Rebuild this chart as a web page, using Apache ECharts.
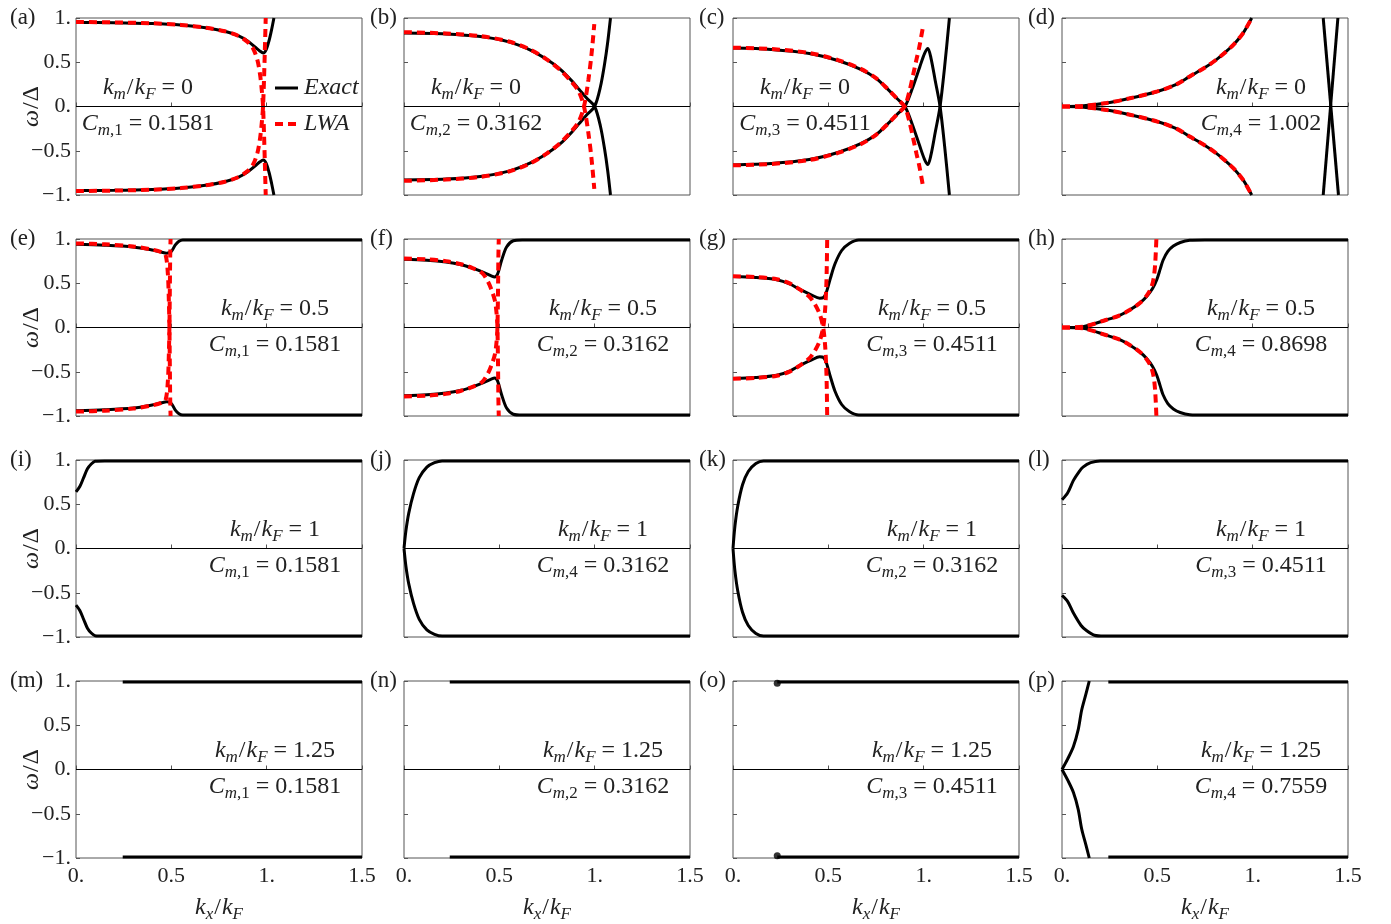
<!DOCTYPE html>
<html><head><meta charset="utf-8">
<script src="https://cdn.jsdelivr.net/npm/echarts@6/dist/echarts.min.js"></script>
<style>html,body{margin:0;padding:0;background:#fff}#c{width:1391px;height:924px}</style>
</head><body><div id="c"></div>
<script>
// ---------- tick labels / texts ----------
const xTicks = [0, 0.5, 1, 1.5];
const xTickLabels = ['0.', '0.5', '1.', '1.5'];
const yTicks = [-1, -0.5, 0, 0.5, 1];
const yTickLabels = ['\u22121.', '\u22120.5', '0.', '0.5', '1.'];
const panelLetters = ['(a)','(b)','(c)','(d)','(e)','(f)','(g)','(h)','(i)','(j)','(k)','(l)','(m)','(n)','(o)','(p)'];
const kmValues = ['0','0','0','0','0.5','0.5','0.5','0.5','1','1','1','1','1.25','1.25','1.25','1.25'];
const cIndex = ['1','2','3','4','1','2','3','4','1','4','2','3','1','2','3','4'];
const cValues = ['0.1581','0.3162','0.4511','1.002','0.1581','0.3162','0.4511','0.8698','0.1581','0.3162','0.3162','0.4511','0.1581','0.3162','0.4511','0.7559'];
const legendNames = ['Exact', 'LWA'];
const zeroLine = [[0,0],[1.5,0]];

// ---------- (a) km=0, C=0.1581 ----------
const a_exUp = [[0,0.95],[0.2,0.947],[0.4,0.937],[0.55,0.92],[0.68,0.89],[0.78,0.85],[0.85,0.8],[0.9,0.74],[0.94,0.67],[0.965,0.625],[0.982,0.605],[0.997,0.64],[1.012,0.74],[1.026,0.87],[1.038,1.0]];
const a_exLo = [[0,-0.95],[0.2,-0.947],[0.4,-0.937],[0.55,-0.92],[0.68,-0.89],[0.78,-0.85],[0.85,-0.8],[0.9,-0.74],[0.94,-0.67],[0.965,-0.625],[0.982,-0.605],[0.997,-0.64],[1.012,-0.74],[1.026,-0.87],[1.038,-1.0]];
const a_lwUp = [[0,0.955],[0.2,0.95],[0.4,0.94],[0.55,0.922],[0.68,0.89],[0.78,0.85],[0.85,0.8],[0.9,0.73],[0.93,0.65],[0.952,0.52],[0.966,0.35],[0.975,0.17],[0.981,0.0],[0.986,-0.3],[0.99,-0.6],[0.995,-1.0]];
const a_lwLo = [[0,-0.955],[0.2,-0.95],[0.4,-0.94],[0.55,-0.922],[0.68,-0.89],[0.78,-0.85],[0.85,-0.8],[0.9,-0.73],[0.93,-0.65],[0.952,-0.52],[0.966,-0.35],[0.975,-0.17],[0.981,0.0],[0.986,0.3],[0.99,0.6],[0.995,1.0]];
// ---------- (b) ----------
const b_exUp = [[0,0.83],[0.22,0.82],[0.4,0.79],[0.55,0.73],[0.66,0.64],[0.75,0.53],[0.82,0.42],[0.88,0.29],[0.92,0.19],[0.96,0.09],[1.0,0.0],[1.03,-0.22],[1.052,-0.48],[1.068,-0.72],[1.083,-1.0]];
const b_exLo = [[0,-0.83],[0.22,-0.82],[0.4,-0.79],[0.55,-0.73],[0.66,-0.64],[0.75,-0.53],[0.82,-0.42],[0.88,-0.29],[0.92,-0.19],[0.96,-0.09],[1.0,0.0],[1.03,0.22],[1.052,0.48],[1.068,0.72],[1.083,1.0]];
const b_lwUp = [[0,0.84],[0.22,0.825],[0.4,0.795],[0.55,0.735],[0.66,0.645],[0.75,0.53],[0.82,0.41],[0.87,0.3],[0.914,0.18],[0.944,0.0],[0.967,-0.3],[0.984,-0.6],[0.998,-0.93]];
const b_lwLo = [[0,-0.84],[0.22,-0.825],[0.4,-0.795],[0.55,-0.735],[0.66,-0.645],[0.75,-0.53],[0.82,-0.41],[0.87,-0.3],[0.914,-0.18],[0.944,0.0],[0.967,0.3],[0.984,0.6],[0.998,0.93]];
// ---------- (c) ----------
const c_exA = [[0,0.66],[0.2,0.645],[0.4,0.6],[0.55,0.52],[0.67,0.42],[0.75,0.32],[0.81,0.2],[0.86,0.09],[0.902,0.0],[0.94,-0.2],[0.98,-0.45],[1.005,-0.6],[1.022,-0.655],[1.038,-0.55],[1.06,-0.3],[1.086,0.0],[1.11,0.45],[1.135,1.0]];
const c_exB = [[0,-0.66],[0.2,-0.645],[0.4,-0.6],[0.55,-0.52],[0.67,-0.42],[0.75,-0.32],[0.81,-0.2],[0.86,-0.09],[0.902,0.0],[0.94,0.2],[0.98,0.45],[1.005,0.6],[1.022,0.655],[1.038,0.55],[1.06,0.3],[1.086,0.0],[1.11,-0.45],[1.135,-1.0]];
const c_lwUp = [[0,0.665],[0.2,0.65],[0.4,0.605],[0.55,0.525],[0.67,0.425],[0.75,0.32],[0.81,0.2],[0.86,0.09],[0.9,0.0],[0.925,-0.17],[0.946,-0.37],[0.962,-0.53],[0.977,-0.67],[0.998,-0.92]];
const c_lwLo = [[0,-0.665],[0.2,-0.65],[0.4,-0.605],[0.55,-0.525],[0.67,-0.425],[0.75,-0.32],[0.81,-0.2],[0.86,-0.09],[0.9,0.0],[0.925,0.17],[0.946,0.37],[0.962,0.53],[0.977,0.67],[0.998,0.92]];
// ---------- (d) ----------
const d_up = [[0,0.0],[0.1,0.005],[0.234,0.04],[0.35,0.09],[0.5,0.17],[0.6,0.25],[0.67,0.34],[0.75,0.44],[0.81,0.53],[0.86,0.62],[0.9,0.7],[0.95,0.83],[0.995,1.0]];
const d_lo = [[0,0.0],[0.1,-0.005],[0.234,-0.04],[0.35,-0.09],[0.5,-0.17],[0.6,-0.25],[0.67,-0.34],[0.75,-0.44],[0.81,-0.53],[0.86,-0.62],[0.9,-0.7],[0.95,-0.83],[0.995,-1.0]];
const d_x1 = [[1.37,1.0],[1.45,-1.0]];
const d_x2 = [[1.447,1.0],[1.37,-1.0]];
// ---------- (e) km=0.5 ----------
const e_exUp = [[0,0.94],[0.15,0.93],[0.3,0.91],[0.4,0.875],[0.45,0.85],[0.475,0.84],[0.5,0.86],[0.52,0.93],[0.54,0.975],[0.56,0.99],[0.6,0.99],[1.5,0.99]];
const e_exLo = [[0,-0.94],[0.15,-0.93],[0.3,-0.91],[0.4,-0.875],[0.45,-0.85],[0.475,-0.84],[0.5,-0.86],[0.52,-0.93],[0.54,-0.975],[0.56,-0.99],[0.6,-0.99],[1.5,-0.99]];
const e_lwUp = [[0,0.95],[0.15,0.94],[0.3,0.915],[0.4,0.88],[0.45,0.85],[0.47,0.82],[0.482,0.6],[0.487,0.3],[0.49,0.0],[0.492,-0.4],[0.494,-0.8],[0.496,-1.0]];
const e_lwLo = [[0,-0.95],[0.15,-0.94],[0.3,-0.915],[0.4,-0.88],[0.45,-0.85],[0.47,-0.82],[0.482,-0.6],[0.487,-0.3],[0.49,0.0],[0.492,0.4],[0.494,0.8],[0.496,1.0]];
// ---------- (f) ----------
const f_exUp = [[0,0.77],[0.12,0.76],[0.22,0.74],[0.3,0.71],[0.36,0.67],[0.42,0.62],[0.46,0.58],[0.475,0.57],[0.49,0.6],[0.512,0.76],[0.538,0.91],[0.573,0.98],[0.62,0.99],[1.5,0.99]];
const f_exLo = [[0,-0.77],[0.12,-0.76],[0.22,-0.74],[0.3,-0.71],[0.36,-0.67],[0.42,-0.62],[0.46,-0.58],[0.475,-0.57],[0.49,-0.6],[0.512,-0.76],[0.538,-0.91],[0.573,-0.98],[0.62,-0.99],[1.5,-0.99]];
const f_lwUp = [[0,0.78],[0.12,0.77],[0.22,0.75],[0.3,0.715],[0.36,0.67],[0.41,0.615],[0.44,0.52],[0.46,0.42],[0.477,0.3],[0.486,0.15],[0.49,0.0],[0.493,-0.4],[0.495,-0.8],[0.497,-1.0]];
const f_lwLo = [[0,-0.78],[0.12,-0.77],[0.22,-0.75],[0.3,-0.715],[0.36,-0.67],[0.41,-0.615],[0.44,-0.52],[0.46,-0.42],[0.477,-0.3],[0.486,-0.15],[0.49,0.0],[0.493,0.4],[0.495,0.8],[0.497,1.0]];
// ---------- (g) ----------
const g_exUp = [[0,0.575],[0.12,0.565],[0.23,0.54],[0.3,0.49],[0.35,0.43],[0.41,0.37],[0.455,0.33],[0.475,0.34],[0.49,0.4],[0.51,0.55],[0.535,0.72],[0.57,0.87],[0.61,0.95],[0.66,0.99],[1.5,0.99]];
const g_exLo = [[0,-0.575],[0.12,-0.565],[0.23,-0.54],[0.3,-0.49],[0.35,-0.43],[0.41,-0.37],[0.455,-0.33],[0.475,-0.34],[0.49,-0.4],[0.51,-0.55],[0.535,-0.72],[0.57,-0.87],[0.61,-0.95],[0.66,-0.99],[1.5,-0.99]];
const g_lwUp = [[0,0.58],[0.12,0.57],[0.23,0.545],[0.3,0.495],[0.35,0.43],[0.4,0.35],[0.43,0.26],[0.455,0.15],[0.473,0.0],[0.483,-0.2],[0.489,-0.45],[0.492,-0.7],[0.494,-1.0]];
const g_lwLo = [[0,-0.58],[0.12,-0.57],[0.23,-0.545],[0.3,-0.495],[0.35,-0.43],[0.4,-0.35],[0.43,-0.26],[0.455,-0.15],[0.473,0.0],[0.483,0.2],[0.489,0.45],[0.492,0.7],[0.494,1.0]];
// ---------- (h) ----------
const h_exUp = [[0,0.0],[0.11,0.01],[0.23,0.085],[0.3,0.135],[0.357,0.2],[0.41,0.28],[0.444,0.35],[0.475,0.44],[0.497,0.54],[0.515,0.66],[0.53,0.76],[0.555,0.86],[0.584,0.92],[0.62,0.96],[0.67,0.985],[0.75,0.99],[1.5,0.99]];
const h_exLo = [[0,0.0],[0.11,-0.01],[0.23,-0.085],[0.3,-0.135],[0.357,-0.2],[0.41,-0.28],[0.444,-0.35],[0.475,-0.44],[0.497,-0.54],[0.515,-0.66],[0.53,-0.76],[0.555,-0.86],[0.584,-0.92],[0.62,-0.96],[0.67,-0.985],[0.75,-0.99],[1.5,-0.99]];
const h_lwUp = [[0,0.0],[0.11,0.01],[0.23,0.085],[0.3,0.135],[0.357,0.2],[0.41,0.28],[0.444,0.36],[0.468,0.45],[0.481,0.56],[0.489,0.73],[0.495,1.0]];
const h_lwLo = [[0,0.0],[0.11,-0.01],[0.23,-0.085],[0.3,-0.135],[0.357,-0.2],[0.41,-0.28],[0.444,-0.36],[0.468,-0.45],[0.481,-0.56],[0.489,-0.73],[0.495,-1.0]];
// ---------- (i)-(l) km=1 ----------
const i_exUp = [[0,0.64],[0.02,0.7],[0.04,0.8],[0.06,0.9],[0.08,0.955],[0.1,0.985],[0.15,0.99],[1.5,0.99]];
const i_exLo = [[0,-0.64],[0.02,-0.7],[0.04,-0.8],[0.06,-0.9],[0.08,-0.955],[0.1,-0.985],[0.15,-0.99],[1.5,-0.99]];
const j_exUp = [[0,0.0],[0.01,0.2],[0.025,0.4],[0.05,0.62],[0.08,0.8],[0.12,0.92],[0.16,0.97],[0.2,0.99],[1.5,0.99]];
const j_exLo = [[0,0.0],[0.01,-0.2],[0.025,-0.4],[0.05,-0.62],[0.08,-0.8],[0.12,-0.92],[0.16,-0.97],[0.2,-0.99],[1.5,-0.99]];
const k_exUp = [[0,0.0],[0.01,0.25],[0.025,0.48],[0.05,0.72],[0.08,0.87],[0.12,0.96],[0.16,0.99],[1.5,0.99]];
const k_exLo = [[0,0.0],[0.01,-0.25],[0.025,-0.48],[0.05,-0.72],[0.08,-0.87],[0.12,-0.96],[0.16,-0.99],[1.5,-0.99]];
const l_exUp = [[0,0.55],[0.03,0.63],[0.06,0.77],[0.09,0.87],[0.11,0.92],[0.15,0.97],[0.2,0.99],[1.5,0.99]];
const l_exLo = [[0,-0.53],[0.03,-0.6],[0.06,-0.73],[0.1,-0.87],[0.13,-0.93],[0.17,-0.98],[0.22,-0.99],[1.5,-0.99]];
// ---------- (m)-(p) km=1.25 ----------
const m_flatUp = [[0.245,0.99],[1.5,0.99]];
const m_flatLo = [[0.245,-0.99],[1.5,-0.99]];
const n_flatUp = [[0.24,0.99],[1.5,0.99]];
const n_flatLo = [[0.24,-0.99],[1.5,-0.99]];
const o_flatUp = [[0.232,0.99],[1.5,0.99]];
const o_flatLo = [[0.232,-0.99],[1.5,-0.99]];
const o_blobs = [[0.232,0.975],[0.232,-0.975]];
const p_exUp = [[0,0.0],[0.03,0.12],[0.06,0.26],[0.085,0.45],[0.103,0.67],[0.125,0.85],[0.143,1.0]];
const p_exLo = [[0,0.0],[0.03,-0.12],[0.06,-0.26],[0.085,-0.45],[0.103,-0.67],[0.125,-0.85],[0.143,-1.0]];
const p_flatUp = [[0.243,0.99],[1.5,0.99]];
const p_flatLo = [[0.243,-0.99],[1.5,-0.99]];

const panelBlack = [
  [a_exUp,a_exLo],[b_exUp,b_exLo],[c_exA,c_exB],[d_up,d_lo,d_x1,d_x2],
  [e_exUp,e_exLo],[f_exUp,f_exLo],[g_exUp,g_exLo],[h_exUp,h_exLo],
  [i_exUp,i_exLo],[j_exUp,j_exLo],[k_exUp,k_exLo],[l_exUp,l_exLo],
  [m_flatUp,m_flatLo],[n_flatUp,n_flatLo],[o_flatUp,o_flatLo],[p_exUp,p_exLo,p_flatUp,p_flatLo]
];
const panelRed = [
  [a_lwUp,a_lwLo],[b_lwUp,b_lwLo],[c_lwUp,c_lwLo],[d_up,d_lo],
  [e_lwUp,e_lwLo],[f_lwUp,f_lwLo],[g_lwUp,g_lwLo],[h_lwUp,h_lwLo],
  [],[],[],[],[],[],[],[]
];
const panelDots = [[],[],[],[],[],[],[],[],[],[],[],[],[],[],o_blobs,[]];

// ---------- layout ----------
const FONT = '"Liberation Serif", "DejaVu Serif", serif';
const colLeft = [76, 404, 733, 1062];
const rowTop = [18, 239, 460, 681];
const GW = 286, GH = 177;
const TXT = '#222';

const grids = [], xAxes = [], yAxes = [], series = [], graphics = [];
const yLab = {}; yTicks.forEach((v,i)=>yLab[v]=yTickLabels[i]);
const xLab = {}; xTicks.forEach((v,i)=>xLab[v]=xTickLabels[i]);

const richBase = {
  i: {fontStyle:'italic', fontSize:24, fontFamily:FONT, fill:TXT},
  n: {fontSize:24, fontFamily:FONT, fill:TXT},
  sl: {fontSize:24, fontFamily:FONT, fill:TXT, padding:[0,1,0,1]},
  s: {fontStyle:'italic', fontSize:17, fontFamily:FONT, fill:TXT, padding:[13,0,0,0]},
  sn: {fontSize:17, fontFamily:FONT, fill:TXT, padding:[13,0,0,0]}
};
function richText(x, y, text, extra) {
  return Object.assign({type:'text', x:x, y:y, silent:true,
    style:{text:text, rich:richBase, fill:TXT, font:'24px '+FONT,
      align:'center', verticalAlign:'middle', textAlign:'center', textVerticalAlign:'middle'}}, extra||{});
}

for (let p = 0; p < 16; p++) {
  const r = Math.floor(p/4), c = p%4;
  const L = colLeft[c], T = rowTop[r];
  grids.push({left:L, top:T, width:GW, height:GH, show:true, borderColor:'#555', borderWidth:1, backgroundColor:'transparent'});
  xAxes.push({type:'value', gridIndex:p, min:0, max:1.5, interval:0.5,
    axisLine:{show:false}, splitLine:{show:false},
    axisTick:{show:true, inside:true, length:4, lineStyle:{color:'#555'}},
    axisLabel:{show:r===3, formatter:v=>xLab[v]!==undefined?xLab[v]:'', fontSize:22, fontFamily:FONT, color:TXT, margin:7}});
  yAxes.push({type:'value', gridIndex:p, min:-1, max:1, interval:0.5,
    axisLine:{show:false}, splitLine:{show:false},
    axisTick:{show:true, inside:true, length:4, lineStyle:{color:'#555'}},
    axisLabel:{show:c===0, formatter:v=>yLab[v]!==undefined?yLab[v]:'', fontSize:22, fontFamily:FONT, color:TXT, margin:5}});
  series.push({type:'line', xAxisIndex:p, yAxisIndex:p, data:zeroLine, symbol:'none', silent:true,
    lineStyle:{color:'#000', width:1}, z:1});
  panelBlack[p].forEach(d => series.push({type:'line', xAxisIndex:p, yAxisIndex:p, data:d, symbol:'none', silent:true,
    smooth:0.3, lineStyle:{color:'#000', width:3}, z:2}));
  panelRed[p].forEach(d => series.push({type:'line', xAxisIndex:p, yAxisIndex:p, data:d, symbol:'none', silent:true,
    smooth:0.3, lineStyle:{color:'#ff0000', width:4, type:[8,5]}, z:3}));
  if (panelDots[p].length) series.push({type:'scatter', xAxisIndex:p, yAxisIndex:p, data:panelDots[p], symbolSize:7,
    itemStyle:{color:'#000'}, silent:true, z:2});

  // panel letter
  graphics.push({type:'text', x: c===0 ? 10 : L-34, y:T, silent:true,
    style:{text:panelLetters[p], font:'23px '+FONT, fill:TXT, align:'left', verticalAlign:'middle', textAlign:'left', textVerticalAlign:'middle'}});
  // annotations
  const off = (r===0 && c<3) ? 72 : 199;
  graphics.push(richText(L+off, T+70, '{i|k}{s|m}{sl|/}{i|k}{s|F}{n| = '+kmValues[p]+'}'));
  graphics.push(richText(L+off, T+106, '{i|C}{s|m}{sn|,'+cIndex[p]+'}{n| = '+cValues[p]+'}'));
}

// y titles and x titles
for (let r = 0; r < 4; r++) {
  graphics.push(richText(32, rowTop[r]+GH/2, '{i|\u03c9}{sl|/}{n|\u0394}', {rotation:Math.PI/2}));
}
for (let c = 0; c < 4; c++) {
  graphics.push(richText(colLeft[c]+GW/2, 908, '{i|k}{s|x}{sl|/}{i|k}{s|F}'));
}
// legend in (a)
graphics.push({type:'line', silent:true, shape:{x1:275, y1:88, x2:298, y2:88}, style:{stroke:'#000', lineWidth:3}});
graphics.push({type:'line', silent:true, shape:{x1:275, y1:124, x2:300, y2:124}, style:{stroke:'#ff0000', lineWidth:4, lineDash:[8,5]}});
graphics.push({type:'text', x:304, y:88, silent:true, style:{text:legendNames[0], font:'italic 24px '+FONT, fill:TXT, align:'left', verticalAlign:'middle', textAlign:'left', textVerticalAlign:'middle'}});
graphics.push({type:'text', x:304, y:124, silent:true, style:{text:legendNames[1], font:'italic 24px '+FONT, fill:TXT, align:'left', verticalAlign:'middle', textAlign:'left', textVerticalAlign:'middle'}});

const chart = echarts.init(document.getElementById('c'), null, {renderer:'canvas'});
chart.setOption({
  animation:false,
  backgroundColor:'#fff',
  grid:grids, xAxis:xAxes, yAxis:yAxes, series:series,
  graphic:{elements:graphics}
});
</script></body></html>
